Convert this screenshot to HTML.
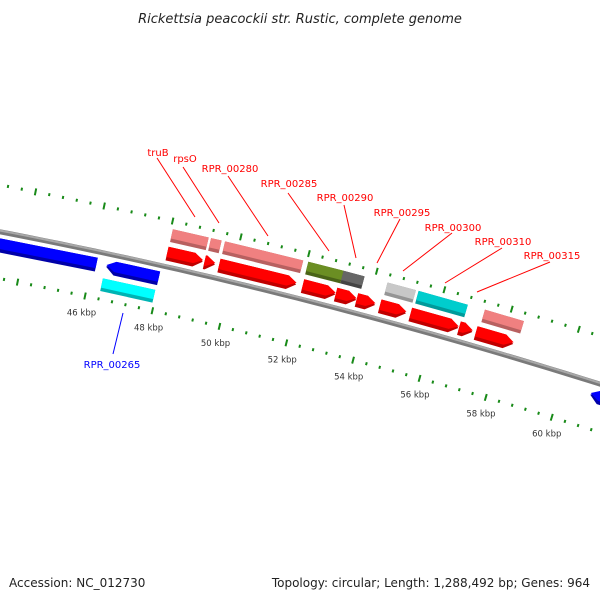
<!DOCTYPE html>
<html><head><meta charset="utf-8">
<style>
html,body{margin:0;padding:0;background:#fff;}
svg{display:block;font-family:"DejaVu Sans","Liberation Sans",sans-serif;}
</style></head>
<body>
<svg id="map" width="600" height="600" viewBox="0 0 600 600" xmlns="http://www.w3.org/2000/svg">
<rect x="0" y="0" width="600" height="600" fill="#fff"/>
<text x="300" y="23" text-anchor="middle" font-size="13" font-style="italic" fill="#222">Rickettsia peacockii str. Rustic, complete genome</text>
<text x="9" y="587" font-size="12" fill="#222">Accession: NC_012730</text>
<text x="590" y="587" text-anchor="end" font-size="12" fill="#222">Topology: circular; Length: 1,288,492 bp; Genes: 964</text>
<g id="ticks"></g>
<g id="backbone"></g>
<g id="features"></g>
<g id="labels"></g>
</svg>
<script>
// ---- data (kbp) ----
const featStart = [41.5, 46.42, 46.4, 48.05, 49.15, 49.58, 52.05, 53.03, 53.65, 54.34, 55.25, 56.70, 57.20, 48.06, 49.18, 49.59, 52.04, 53.08, 54.38, 55.30, 57.27, 60.87];
const featEnd   = [46.13, 47.97, 47.95, 49.10, 49.46, 51.86, 53.02, 53.64, 54.20, 55.12, 56.68, 57.10, 58.32, 49.11, 49.49, 51.89, 53.08, 53.70, 55.22, 56.76, 58.43, 63.0];
const featTrack = ["rev","rev","inbox","fwd","fwd","fwd","fwd","fwd","fwd","fwd","fwd","fwd","fwd","outbox","outbox","outbox","outbox","outbox","outbox","outbox","outbox","rev"];
const featColor = ["#0000ff","#0000ff","#00ffff","#ff0000","#ff0000","#ff0000","#ff0000","#ff0000","#ff0000","#ff0000","#ff0000","#ff0000","#ff0000","#f08080","#f08080","#f08080","#6b8e23","#666666","#c8c8c8","#00cdcd","#f08080","#0000ff"];
const featDark  = ["#0000a8","#0000a8","#00b4b4","#c00000","#c00000","#c00000","#c00000","#c00000","#c00000","#c00000","#c00000","#c00000","#c00000","#b86060","#b86060","#b86060","#4a6418","#444444","#959595","#009a9a","#b86060","#0000a8"];
const tickMin = 42.8, tickMax = 62.4, tickStep = 0.4;
const majorLabels = [46, 48, 50, 52, 54, 56, 58, 60];
const labelNames = ["truB","rpsO","RPR_00280","RPR_00285","RPR_00290","RPR_00295","RPR_00300","RPR_00310","RPR_00315","RPR_00265"];
const labelX = [158,185,230,289,345,402,453,503,552,112];
const labelY = [156,162,172,187,201,216,231,245,259,368];
const lineFromX = [157,183,228,288,344,400,452,502,550,123];
const lineFromY = [158,167,176,193,205,219,233,248,262,313];
const lineToX = [195,219,268,329,356,377,403,445,477,113];
const lineToY = [217,223,236,251,258,263,271,283,292,354];
const labelColor = ["red","red","red","red","red","red","red","red","red","blue"];

// ---- geometry (circle arc) ----
const NS = "http://www.w3.org/2000/svg";
const R = 5430, PX = 34.75, K0 = 46;
const th0 = 12 * Math.PI / 180;
const P0 = [94.6, 251];
const C = [P0[0] - R * Math.sin(th0), P0[1] + R * Math.cos(th0)];
function theta(k){ return th0 + (k - K0) * PX / R; }
function pt(k, r){
  const t = theta(k);
  return [C[0] + (R + r) * Math.sin(t), C[1] - (R + r) * Math.cos(t)];
}
function poly(pts){ return pts.map(p => p[0].toFixed(2) + "," + p[1].toFixed(2)).join(" "); }
function mk(tag, attrs, parent){
  const e = document.createElementNS(NS, tag);
  for (const a in attrs) e.setAttribute(a, attrs[a]);
  parent.appendChild(e);
  return e;
}

// ---- ticks ----
const tg = document.getElementById("ticks");
const nT = Math.round((tickMax - tickMin) / tickStep);
for (let i = 0; i <= nT; i++){
  const k = tickMin + i * tickStep;
  const major = Math.abs(k / 2 - Math.round(k / 2)) < 1e-6;
  const h = major ? 3.5 : 1.5;
  [46, -46].forEach(rr => {
    const a = pt(k, rr - h), b = pt(k, rr + h);
    const ln = mk("line", {x1:a[0], y1:a[1], x2:b[0], y2:b[1], stroke:"#188a18", "stroke-width": 2}, tg);
    
    
  });
}
majorLabels.forEach(k => {
  const p = pt(k, -63);
  const t = mk("text", {x:p[0], y:p[1] + 3, "text-anchor":"middle", "font-size":"8.5", fill:"#333"}, tg);
  t.textContent = k + " kbp";
  
  
});

// ---- backbone ----
const bg = document.getElementById("backbone");
let bpts = [];
for (let k = 40; k <= 64; k += 0.5) bpts.push(pt(k, 0));
const bd = "M" + bpts.map(p => p[0].toFixed(2) + "," + p[1].toFixed(2)).join(" L");
const b1 = mk("path", {d: bd, fill:"none", stroke:"#7a7a7a", "stroke-width": 5}, bg);


let bpts2 = [];
for (let k = 40; k <= 64; k += 0.5) bpts2.push(pt(k, 1.2));
const b2 = mk("path", {d: "M" + bpts2.map(p => p[0].toFixed(2) + "," + p[1].toFixed(2)).join(" L"), fill:"none", stroke:"#a8a8a8", "stroke-width": 2}, bg);



// ---- features ----
const trackR = {fwd:[6,20], rev:[-20,-6], outbox:[25,38], inbox:[-38,-25]};
const fg = document.getElementById("features");
function shape(s, e, r1, r2, type){
  const head = Math.min(9 / PX, e - s);
  const mid = (r1 + r2) / 2;
  if (type === "fwd"){
    const hs = e - head;
    return [pt(s, r1), pt(s, r2), pt(hs, r2), pt(e, mid), pt(hs, r1)];
  } else if (type === "rev"){
    const hs = s + head;
    return [pt(s, mid), pt(hs, r2), pt(e, r2), pt(e, r1), pt(hs, r1)];
  }
  return [pt(s, r1), pt(s, r2), pt(e, r2), pt(e, r1)];
}
for (let i = 0; i < featStart.length; i++){
  const tr = featTrack[i];
  const rr = trackR[tr];
  const type = tr === "fwd" ? "fwd" : (tr === "rev" ? "rev" : "box");
  const g = mk("g", {}, fg);
  
  
  mk("polygon", {points: poly(shape(featStart[i], featEnd[i], rr[0], rr[1], type)), fill: featDark[i]}, g);
  mk("polygon", {points: poly(shape(featStart[i], featEnd[i], rr[0] + 3.5, rr[1], type)), fill: featColor[i]}, g);
}

// ---- labels ----
const lg = document.getElementById("labels");
for (let i = 0; i < labelNames.length; i++){
  const ln = mk("line", {x1:lineFromX[i], y1:lineFromY[i], x2:lineToX[i], y2:lineToY[i], stroke:labelColor[i], "stroke-width":1}, lg);
  
  
  const t = mk("text", {x:labelX[i], y:labelY[i], "text-anchor":"middle", "font-size":"10", fill:labelColor[i]}, lg);
  t.textContent = labelNames[i];
  
  
}
</script>
</body></html>
